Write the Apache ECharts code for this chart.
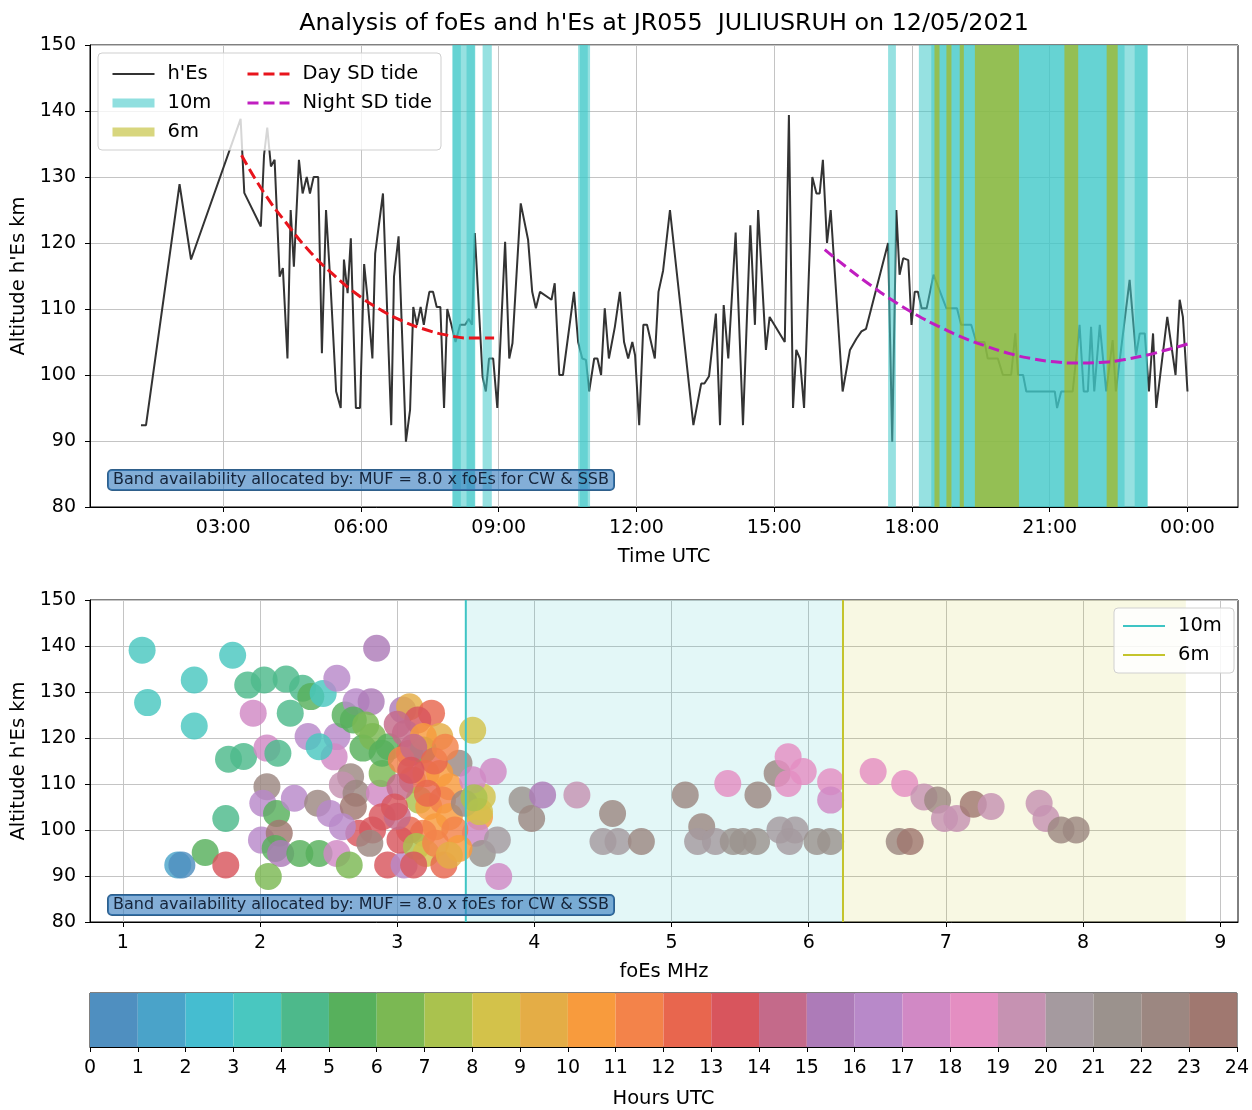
<!DOCTYPE html>
<html>
<head>
<meta charset="utf-8">
<script src="https://cdn.jsdelivr.net/npm/echarts@6/dist/echarts.min.js"></script>
<style>html,body{margin:0;padding:0;background:#fff}#c{width:1252px;height:1110px}</style>
</head>
<body>
<div id="c"></div>
<script>
// ---------- DATA ----------
const titleText = "Analysis of foEs and h'Es at JR055  JULIUSRUH on 12/05/2021";
const noteText = "Band availability allocated by: MUF = 8.0 x foEs for CW & SSB";

// h'Es time series (hours UTC, km)
const hesTimes = [1.21,1.32,2.05,2.30,3.38,3.46,3.82,3.89,3.96,4.04,4.12,4.23,4.30,4.40,4.47,4.54,4.65,4.73,4.82,4.89,4.97,5.07,5.15,5.24,5.34,5.46,5.56,5.63,5.71,5.78,5.89,5.98,6.07,6.14,6.25,6.31,6.48,6.66,6.72,6.82,6.98,7.07,7.14,7.22,7.30,7.37,7.43,7.49,7.57,7.65,7.73,7.81,7.88,7.97,8.06,8.16,8.27,8.35,8.42,8.48,8.65,8.72,8.79,8.88,8.97,9.14,9.23,9.30,9.48,9.64,9.73,9.81,9.90,10.15,10.22,10.32,10.40,10.64,10.73,10.82,10.90,10.97,11.08,11.15,11.23,11.31,11.40,11.53,11.64,11.73,11.82,11.91,11.97,12.06,12.15,12.23,12.40,12.48,12.58,12.73,13.24,13.41,13.48,13.58,13.73,13.82,13.90,14.00,14.16,14.32,14.48,14.58,14.65,14.82,14.90,15.23,15.32,15.41,15.48,15.56,15.65,15.83,15.92,15.99,16.06,16.15,16.23,16.49,16.65,16.79,16.90,17.00,17.48,17.57,17.66,17.73,17.81,17.92,17.99,18.06,18.13,18.21,18.32,18.47,18.75,18.98,19.07,19.29,19.40,19.58,19.65,19.87,19.98,20.16,20.25,20.31,20.42,20.49,21.11,21.16,21.25,21.50,21.65,21.74,21.83,21.90,21.97,22.09,22.23,22.37,22.44,22.74,22.88,22.96,23.07,23.16,23.25,23.32,23.56,23.74,23.83,23.90,24.00];
const hesHeights = [92.4,92.4,128.9,117.5,138.8,127.6,122.5,133.3,137.5,131.6,132.6,114.9,116.2,102.5,125,116.4,132.6,127.5,130,127.5,130,130,103.3,125,113.4,97.5,95,117.5,112.4,120.7,95,95,116.8,111.9,102.5,118.4,127.5,92.4,114.9,121,89.9,94.7,110.3,107.6,110.3,107.6,110.3,112.6,112.6,110.3,110.3,95,110,107.6,105,107.6,107.6,108.5,107.6,121.5,99.7,97.5,102.5,102.5,95,120.2,102.5,104.8,126,120.5,112.6,110.1,112.6,111.4,113.9,100,100,112.6,105,102.5,102.3,97.5,102.5,102.5,100,110.1,102.5,107.3,112.6,105,102.5,105,103,92.4,107.6,107.6,102.5,112.6,115.8,125,92.4,98.7,98.7,99.8,109.3,92.4,110.6,102.5,121.6,92.4,122.7,107.6,125,103.8,108.8,105,139.4,95,103.8,102.5,95,130,127.5,127.5,132.6,120,125,97.5,103.8,105.5,106.6,107,120,89.9,125,115.2,117.7,117.4,107.6,112.6,112.6,110.1,110.1,115.2,110.1,110.1,107.6,107.6,105,105,102.5,102.5,100,100,106.3,100,100,97.5,97.5,95,97.5,97.5,107.6,97.5,97.5,107.3,97.5,107.6,97.5,105.3,97.5,114.4,103,106.3,106.3,97.5,106.3,95,108.8,100,111.4,108.8,97.5];

// Semi-diurnal tide fits
const dayTideTimes = [3.4,3.9,4.4,4.9,5.4,5.9,6.4,6.9,7.4,7.9,8.4,8.9];
const dayTideHeights = [133.3,127.5,122.8,118.6,115.2,112.3,110.0,108.2,106.9,106.0,105.6,105.6];
const nightTideTimes = [16.1,16.6,17.1,17.6,18.1,18.6,19.1,19.6,20.1,20.6,21.1,21.6,22.1,22.6,23.1,23.6,24.0];
const nightTideHeights = [119.0,116.2,113.6,111.2,109.1,107.3,105.7,104.4,103.3,102.5,102.0,101.8,101.9,102.3,103.0,103.9,104.7];

// Band availability periods (hours UTC, start-end; overlapping spans look darker)
const band10m = [[7.99,8.17],[8.00,8.18],[8.17,8.48],[8.30,8.49],[8.65,8.85],[10.73,10.99],[10.77,10.94],[17.48,17.65],[18.15,23.13],[18.42,22.63],[22.85,23.13]];
const band6m = [[18.49,18.60],[18.75,18.86],[19.04,19.13],[19.37,20.33],[21.32,21.62],[22.24,22.48]];

// Scatter: foEs (MHz), h'Es (km), hour UTC
const scFoEs = [1.14,1.18,1.52,1.52,1.80,1.40,1.43,1.60,1.75,1.75,1.77,1.88,1.91,2.03,2.19,1.95,2.05,2.13,2.22,2.31,2.37,2.46,2.56,2.05,2.02,2.01,2.12,2.14,2.11,2.15,2.25,2.29,2.43,2.42,2.51,2.56,2.65,2.06,2.35,2.56,2.54,2.43,2.62,2.70,2.81,2.85,2.68,2.77,2.75,2.82,2.66,2.60,2.70,2.68,2.87,2.82,2.72,2.89,2.80,2.60,2.89,2.89,2.94,2.93,3.05,3.04,3.09,3.25,3.15,3.31,3.06,3.09,3.19,3.55,3.45,3.11,3.21,3.31,3.38,3.16,3.23,3.33,3.28,3.38,3.19,3.09,3.02,3.14,3.21,3.34,3.28,3.02,3.03,3.19,3.60,3.62,3.70,3.55,3.57,3.62,3.74,3.73,3.49,3.91,3.98,4.06,4.31,4.57,4.50,4.61,4.78,5.10,5.22,5.19,5.32,5.45,5.52,5.62,5.41,5.63,5.77,5.85,5.85,5.96,5.79,5.90,5.86,6.06,6.16,6.16,6.16,6.47,6.70,6.84,6.94,6.99,7.08,7.20,7.33,6.66,6.74,7.68,7.73,7.84,7.95,3.12,3.00,3.22,3.27,3.35,3.42,3.45,3.38,3.12,2.98,3.00,3.10,3.60,3.56];
const scHeights = [139.1,127.7,132.6,122.6,138,92.4,92.4,95.1,92.4,102.5,115.4,116,131.5,132.6,132.8,125.4,117.8,116.7,125.4,130.8,129,129.7,133,109.4,105.8,97.8,103.6,99.3,96,94.9,106.9,94.9,94.9,105.8,103.6,94.9,92.4,89.9,120.3,120.3,115.9,118.1,125,127.9,127.9,139.5,123.9,122.8,117.8,120.3,111.6,109.8,108,105.1,108,100,99.3,102.9,97.1,100.7,112.3,116.7,118.1,92.4,92.4,126.1,126.8,125.4,123.9,120.3,121,116.7,117.4,121.7,114.5,110.9,112.3,112.3,109.4,106.5,105.1,106.5,100.7,102.9,99.3,100,97.8,96.4,94.9,92.4,97.1,109.4,115.2,120.3,102.9,107.2,112.7,110.9,99.3,94.9,89.9,97.8,105.8,106.5,102.5,107.6,107.6,103.6,97.5,97.5,97.5,107.6,100.7,97.5,97.5,97.5,97.5,97.5,110.1,107.6,112.3,115.9,110.1,112.7,100,100,97.5,97.5,97.5,110.5,106.5,112.7,110.1,107.2,106.5,102.5,102.5,105.6,105.1,97.5,97.5,105.8,102.5,100,100,118,103,108,115,118,100,96,94.5,92.4,105,123,113,104,107];
const scHours = [3,3,3,3,3,1,0,5,13,4,4,4,4,4,4,17,17,4,4,4,5,3,16,22,16,16,5,23,5,15,16,5,5,22,16,17,6,6,16,16,17,3,5,16,15,15,5,6,5,6,22,19,22,23,17,13,13,13,22,16,6,5,5,13,16,15,9,12,13,9,14,13,6,8,22,12,11,10,10,7,10,11,10,10,11,12,13,7,8,12,11,14,11,10,10,8,17,17,17,21,17,20,22,21,22,15,19,22,20,20,22,22,22,20,20,21,21,21,18,22,22,18,18,18,20,20,20,21,21,18,17,18,18,19,22,19,19,23,19,22,23,19,19,22,22,14,14,12,12,11,11,10,9,13,13,14,13,8,7];

// Colour per hour bin of the colour bar
const hourColors = ['#4f8fc0','#4aa3c9','#45bdd0','#49c7c0','#4db98b','#57b05c','#7bb853','#aac24e','#d3c24a','#e4ad46','#f89b3d','#f3834a','#e8664e','#d8555d','#c46a8a','#ad7bb8','#b889c9','#d189c5','#e48ec2','#c692b2','#a59a9f','#9b928d','#9c8781','#a07870'];

// Tick labels
const timeTicks = [3,6,9,12,15,18,21,24];
const foesTicks = [1,2,3,4,5,6,7,8,9];
const band10mEdges = [3.5, 6.25];
const band6mEdges = [6.25, 8.75];
const hourBins = [0,1,2,3,4,5,6,7,8,9,10,11,12,13,14,15,16,17,18,19,20,21,22,23];

// ---------- CHART ----------
const FONT = 'DejaVu Sans';
const chart = echarts.init(document.getElementById('c'), null, {renderer: 'canvas'});
const Y0 = 80, Y1 = 150;
function pad2(n){ return (n < 10 ? '0' : '') + n; }
function spanRender(fill){
  return function(params, api){
    const a = api.coord([api.value(0), Y1]);
    const b = api.coord([api.value(1), Y0]);
    return {type:'rect', shape:{x:a[0], y:a[1], width:b[0]-a[0], height:b[1]-a[1]}, style:{fill: fill}};
  };
}
const axisLabelStyle = {color:'#000', fontSize:19, fontFamily:FONT};
const nameStyle = {color:'#000', fontSize:19.5, fontFamily:FONT};
const splitStyle = {show:true, lineStyle:{color:'#c4c4c4', width:1}};
const axisLineStyle = {show:true, lineStyle:{color:'#000', width:1}};
const tickStyle = {show:true, length:5, lineStyle:{color:'#000'}};
const legendText = {fontSize:19.5, fontFamily:FONT, color:'#000', lineHeight:18, padding:[0,0,0,8]};

const option = {
  animation: false,
  backgroundColor: '#fff',
  textStyle: {fontFamily: FONT},
  grid: [
    {left:90, top:45, width:1148, height:462, show:true, borderColor:'#000', borderWidth:1, backgroundColor:'transparent'},
    {left:90, top:600, width:1148, height:322, show:true, borderColor:'#000', borderWidth:1, backgroundColor:'transparent'},
    {left:90, top:993, width:1149, height:55, show:true, borderColor:'#000', borderWidth:1, backgroundColor:'transparent'}
  ],
  xAxis: [
    {type:'value', gridIndex:0, min:0.1, max:25.1, name:'Time UTC', nameLocation:'middle', nameGap:40,
     nameTextStyle:nameStyle,
     axisLine:axisLineStyle, axisTick:Object.assign({customValues:timeTicks}, tickStyle),
     axisLabel:Object.assign({customValues:timeTicks, margin:12, formatter:function(v){ return pad2(Math.round(v)%24)+':00'; }}, axisLabelStyle),
     splitLine:splitStyle},
    {type:'value', gridIndex:1, min:0.76, max:9.13, name:'foEs MHz', nameLocation:'middle', nameGap:40,
     nameTextStyle:nameStyle,
     axisLine:axisLineStyle, axisTick:Object.assign({customValues:foesTicks}, tickStyle),
     axisLabel:Object.assign({customValues:foesTicks, margin:12}, axisLabelStyle),
     splitLine:splitStyle},
    {type:'value', gridIndex:2, min:0, max:24, interval:1, name:'Hours UTC', nameLocation:'middle', nameGap:42,
     nameTextStyle:nameStyle,
     axisLine:axisLineStyle, axisTick:tickStyle,
     axisLabel:Object.assign({margin:12, showMinLabel:true, showMaxLabel:true}, axisLabelStyle),
     splitLine:{show:false}}
  ],
  yAxis: [
    {type:'value', gridIndex:0, min:Y0, max:Y1, interval:10, name:"Altitude h'Es km", nameLocation:'middle', nameGap:60,
     nameTextStyle:nameStyle,
     axisLine:axisLineStyle, axisTick:tickStyle, axisLabel:Object.assign({margin:14}, axisLabelStyle), splitLine:splitStyle},
    {type:'value', gridIndex:1, min:Y0, max:Y1, interval:10, name:"Altitude h'Es km", nameLocation:'middle', nameGap:60,
     nameTextStyle:nameStyle,
     axisLine:axisLineStyle, axisTick:tickStyle, axisLabel:Object.assign({margin:14}, axisLabelStyle), splitLine:splitStyle},
    {type:'value', gridIndex:2, min:0, max:1, show:false}
  ],
  legend: [
    {data:[{name:"h'Es", lineStyle:{width:2}}, {name:'10m', lineStyle:{width:9}}, {name:'6m', lineStyle:{width:9}}],
     orient:'vertical', left:103, top:59, itemWidth:42, itemHeight:14, itemGap:9, itemStyle:{opacity:0},
     textStyle:legendText, z:20, selectedMode:false},
    {data:[{name:'Day SD tide', lineStyle:{width:3}}, {name:'Night SD tide', lineStyle:{width:3}}],
     orient:'vertical', left:241, top:59, itemWidth:42, itemHeight:14, itemGap:9, itemStyle:{opacity:0},
     textStyle:legendText, z:20, selectedMode:false},
    {data:[{name:'10m ', lineStyle:{width:2}}, {name:'6m ', lineStyle:{width:2}}],
     orient:'vertical', left:1114, top:608, itemWidth:42, itemHeight:14, itemGap:9, itemStyle:{opacity:0},
     padding:[8,6,8,8], backgroundColor:'rgba(255,255,255,0.85)', borderColor:'#d0d0d0', borderWidth:1, borderRadius:4,
     textStyle:legendText, z:20, selectedMode:false}
  ],
  graphic: [
    {type:'text', x:664, y:24, z:50, style:{text:titleText, font:'23.8px "DejaVu Sans"', fill:'#000', align:'center', verticalAlign:'middle'}},
    {type:'rect', x:98, y:53, z:15, shape:{width:343, height:97, r:4}, style:{fill:'rgba(255,255,255,0.8)', stroke:'#cfcfcf', lineWidth:1}},
    {type:'text', x:108, y:470, z:30, style:{text:noteText, font:'16px "DejaVu Sans"', fill:'#15243a', backgroundColor:'rgba(55,125,190,0.62)', borderColor:'#2f5f8a', borderWidth:1, borderRadius:4, padding:[2,5,2,5]}},
    {type:'text', x:108, y:895, z:30, style:{text:noteText, font:'16px "DejaVu Sans"', fill:'#15243a', backgroundColor:'rgba(55,125,190,0.62)', borderColor:'#2f5f8a', borderWidth:1, borderRadius:4, padding:[2,5,2,5]}}
  ],
  series: [
    // ----- top panel -----
    {name:"h'Es", type:'line', xAxisIndex:0, yAxisIndex:0, z:2, symbol:'none', color:'#333333',
     lineStyle:{color:'#333333', width:2}, data: hesTimes.map((t,i)=>[t, hesHeights[i]])},
    {name:'bands10', type:'custom', xAxisIndex:0, yAxisIndex:0, z:3, clip:true, encode:{x:[0,1]},
     renderItem: spanRender('rgba(64,200,200,0.55)'), data: band10m, silent:true},
    {name:'bands6', type:'custom', xAxisIndex:0, yAxisIndex:0, z:3, clip:true, encode:{x:[0,1]},
     renderItem: spanRender('rgba(178,178,0,0.6)'), data: band6m, silent:true},
    {name:'Day SD tide', type:'line', xAxisIndex:0, yAxisIndex:0, z:5, symbol:'none', smooth:true, color:'#e8141c',
     lineStyle:{color:'#e8141c', width:3, type:[11,5]}, data: dayTideTimes.map((t,i)=>[t, dayTideHeights[i]])},
    {name:'Night SD tide', type:'line', xAxisIndex:0, yAxisIndex:0, z:5, symbol:'none', smooth:true, color:'#c01ec0',
     lineStyle:{color:'#c01ec0', width:3, type:[11,5]}, data: nightTideTimes.map((t,i)=>[t, nightTideHeights[i]])},
    {name:'10m', type:'line', xAxisIndex:0, yAxisIndex:0, symbol:'none', color:'#90dfdf', lineStyle:{color:'#90dfdf', width:9}, data:[]},
    {name:'6m', type:'line', xAxisIndex:0, yAxisIndex:0, symbol:'none', color:'#d8d67e', lineStyle:{color:'#d8d67e', width:9}, data:[]},
    // ----- bottom panel -----
    {name:'shade10', type:'custom', xAxisIndex:1, yAxisIndex:1, z:1, clip:true, encode:{x:[0,1]},
     renderItem: spanRender('rgba(64,200,200,0.15)'), data:[band10mEdges], silent:true},
    {name:'shade6', type:'custom', xAxisIndex:1, yAxisIndex:1, z:1, clip:true, encode:{x:[0,1]},
     renderItem: spanRender('rgba(191,191,0,0.11)'), data:[band6mEdges], silent:true},
    {name:'scatter', type:'scatter', xAxisIndex:1, yAxisIndex:1, z:3, symbolSize:27,
     data: scFoEs.map((f,i)=>({value:[f, scHeights[i], scHours[i]], itemStyle:{color:hourColors[scHours[i]], opacity:0.82}}))},
    {name:'10m ', type:'line', xAxisIndex:1, yAxisIndex:1, z:4, symbol:'none', color:'#3ec4c4',
     lineStyle:{color:'#3ec4c4', width:2}, data:[[band10mEdges[0],Y0],[band10mEdges[0],Y1]]},
    {name:'6m ', type:'line', xAxisIndex:1, yAxisIndex:1, z:4, symbol:'none', color:'#c4c42c',
     lineStyle:{color:'#c4c42c', width:2}, data:[[band6mEdges[0],Y0],[band6mEdges[0],Y1]]},
    // ----- colour bar -----
    {name:'colorbar', type:'custom', xAxisIndex:2, yAxisIndex:2, z:2, silent:true, encode:{x:0},
     renderItem: function(params, api){
       const h = api.value(0);
       const a = api.coord([h, 1]); const b = api.coord([h+1, 0]);
       return {type:'rect', shape:{x:a[0], y:a[1], width:b[0]-a[0], height:b[1]-a[1]}, style:{fill:hourColors[h]}};
     }, data: hourBins.map(h=>[h])}
  ]
};
chart.setOption(option);
</script>
</body>
</html>
